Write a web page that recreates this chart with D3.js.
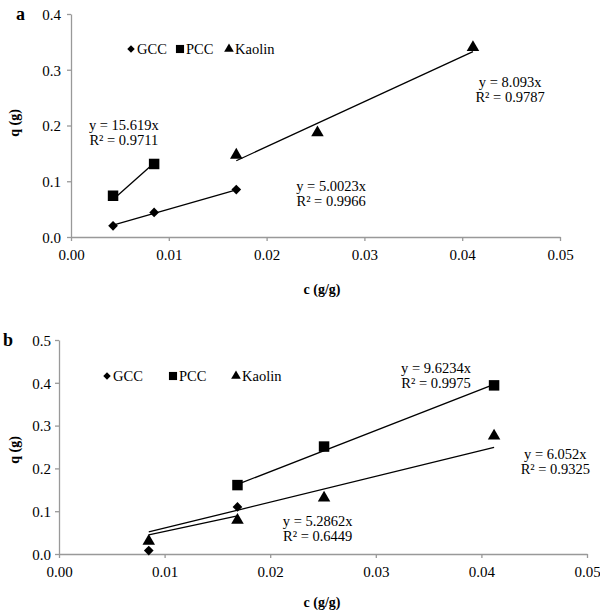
<!DOCTYPE html>
<html>
<head>
<meta charset="utf-8">
<script src="https://cdn.jsdelivr.net/npm/d3@7"></script>
<style>
  body { margin: 0; background: #fff; }
  svg { display: block; font-family: "Liberation Serif", "Times New Roman", serif; }
</style>
</head>
<body>
<div id="wrapper"></div>
<script>
// DATA
const xTicks = [0, 0.01, 0.02, 0.03, 0.04, 0.05]
const yTicksA = [0, 0.1, 0.2, 0.3, 0.4]
const yTicksB = [0, 0.1, 0.2, 0.3, 0.4, 0.5]
const series = ["GCC", "PCC", "Kaolin"]

// panel a
const gccA_c = [0.0043, 0.0085, 0.0169]
const gccA_q = [0.020, 0.044, 0.085]
const pccA_c = [0.0043, 0.0085]
const pccA_q = [0.074, 0.131]
const kaoA_c = [0.0169, 0.0252, 0.0411]
const kaoA_q = [0.147, 0.187, 0.340]
const slopesA = [5.0023, 15.619, 8.093]
const r2A = ["0.9966", "0.9711", "0.9787"]

// panel b
const gccB_c = [0.0085, 0.0169]
const gccB_q = [0.008, 0.110]
const pccB_c = [0.0169, 0.0251, 0.0412]
const pccB_q = [0.161, 0.251, 0.394]
const kaoB_c = [0.0085, 0.0169, 0.0251, 0.0412]
const kaoB_q = [0.030, 0.079, 0.131, 0.276]
const slopesB = [5.2862, 9.6234, 6.052]
const r2B = ["0.6449", "0.9975", "0.9325"]

const zip = (cs, qs) => cs.map((c, i) => ({ c: c, q: qs[i] }))

const svg = d3.select("#wrapper").append("svg")
  .attr("width", 600)
  .attr("height", 610)

const symbolTypes = [d3.symbolDiamond2, d3.symbolSquare, d3.symbolTriangle]
const symbolSizes = [60, 110, 68]

function drawPanel(p) {
  const xScale = d3.scaleLinear().domain([0, 0.05]).range([p.left, p.right])
  const yScale = d3.scaleLinear().domain([0, p.yMax]).range([p.bottom, p.top])

  // AXES
  const xAxis = svg.append("g")
    .attr("transform", `translate(0,${p.bottom})`)
    .call(d3.axisBottom(xScale).tickValues(xTicks).tickFormat(d3.format(".2f")).tickSize(4).tickSizeOuter(0))
  const yAxis = svg.append("g")
    .attr("transform", `translate(${p.left},0)`)
    .call(d3.axisLeft(yScale).tickValues(p.yTicks).tickFormat(d3.format(".1f")).tickSize(4).tickSizeOuter(0))

  ;[xAxis, yAxis].forEach(ax => {
    ax.select(".domain").attr("stroke", "#999").attr("stroke-width", 1.3)
    ax.selectAll(".tick line").attr("stroke", "#999").attr("stroke-width", 1.3)
    ax.selectAll(".tick text").attr("fill", "#000").style("font-size", "15px").style("font-family", "Liberation Serif")
  })
  xAxis.selectAll(".tick text").attr("y", 12)
  yAxis.selectAll(".tick text").attr("x", -p.yLabelGap).attr("dy", "0.35em")

  // LABELS
  svg.append("text")
    .attr("x", p.letterX).attr("y", p.top + 6)
    .style("font-size", "18px").style("font-weight", "bold")
    .text(p.letter)

  svg.append("text")
    .attr("transform", `translate(${p.qLabelX},${p.qLabelY}) rotate(-90)`)
    .attr("text-anchor", "middle")
    .style("font-size", "14px").style("font-weight", "bold")
    .text("q (g)")

  svg.append("text")
    .attr("x", 322).attr("y", p.cLabelY)
    .attr("text-anchor", "middle")
    .style("font-size", "14px").style("font-weight", "bold")
    .text("c (g/g)")

  // TRENDLINES (y = slope * x over each series' range)
  p.data.forEach((d, i) => {
    const ext = d3.extent(d, v => v.c)
    svg.append("line")
      .attr("x1", xScale(ext[0])).attr("y1", yScale(p.slopes[i] * ext[0]))
      .attr("x2", xScale(ext[1])).attr("y2", yScale(p.slopes[i] * ext[1]))
      .attr("stroke", "#000").attr("stroke-width", 1.3)
  })

  // MARKERS
  p.data.forEach((d, i) => {
    svg.append("g").selectAll("path").data(d).join("path")
      .attr("transform", v => `translate(${xScale(v.c)},${yScale(v.q)})`)
      .attr("d", d3.symbol().type(symbolTypes[i]).size(symbolSizes[i]))
      .attr("fill", "#000")
  })

  // EQUATION LABELS
  p.labels.forEach((l, i) => {
    const t = svg.append("text")
      .attr("text-anchor", "middle")
      .style("font-size", "14.5px")
    t.append("tspan").attr("x", xScale(l[0])).attr("y", yScale(l[1]) + 5)
      .text(`y = ${p.slopes[i]}x`)
    t.append("tspan").attr("x", xScale(l[0])).attr("y", yScale(l[1]) + 20)
      .text(`R² = ${p.r2[i]}`)
  })

  // LEGEND
  series.forEach((s, i) => {
    const lx = p.legendX[i]
    svg.append("path")
      .attr("transform", `translate(${lx},${p.legendY})`)
      .attr("d", d3.symbol().type(symbolTypes[i]).size(symbolSizes[i] * 0.6))
      .attr("fill", "#000")
    svg.append("text")
      .attr("x", lx + 6).attr("y", p.legendY + 5)
      .style("font-size", "14.5px")
      .text(s)
  })
}

drawPanel({
  left: 71, right: 560, top: 14, bottom: 237, yMax: 0.4, yTicks: yTicksA, yLabelGap: 10,
  letter: "a", letterX: 16, qLabelX: 19, qLabelY: 123, cLabelY: 294,
  data: [zip(gccA_c, gccA_q), zip(pccA_c, pccA_q), zip(kaoA_c, kaoA_q)],
  slopes: slopesA, r2: r2A,
  labels: [[0.0266, 0.092], [0.0054, 0.201], [0.0449, 0.278]],
  legendX: [131, 180, 229], legendY: 49
})

drawPanel({
  left: 59, right: 587, top: 340, bottom: 554, yMax: 0.5, yTicks: yTicksB, yLabelGap: 8,
  letter: "b", letterX: 3, qLabelX: 19, qLabelY: 450, cLabelY: 607,
  data: [zip(gccB_c, gccB_q), zip(pccB_c, pccB_q), zip(kaoB_c, kaoB_q)],
  slopes: slopesB, r2: r2B,
  labels: [[0.0245, 0.077], [0.0357, 0.434], [0.047, 0.233]],
  legendX: [107, 173, 236], legendY: 376
})
</script>
</body>
</html>
